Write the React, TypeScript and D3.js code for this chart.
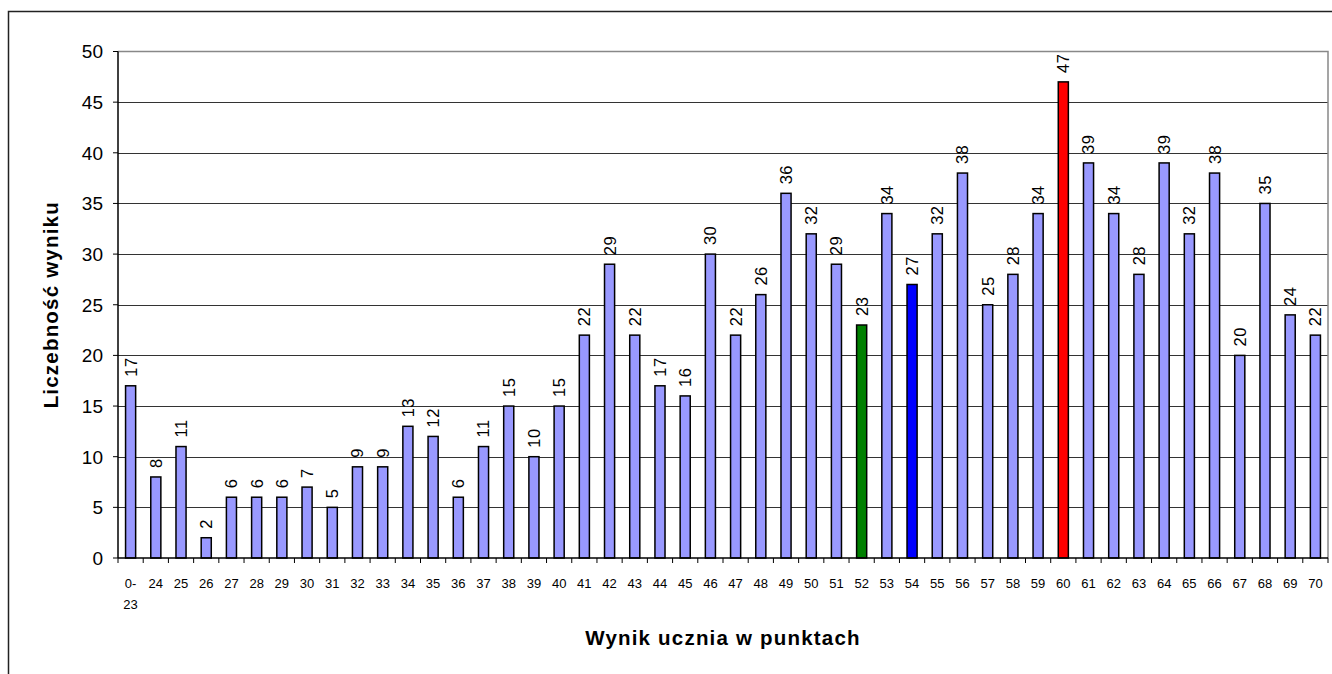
import React from "react";
import * as d3 from "d3";

const categories = ["0-23","24","25","26","27","28","29","30","31","32","33","34","35","36","37","38","39","40","41","42","43","44","45","46","47","48","49","50","51","52","53","54","55","56","57","58","59","60","61","62","63","64","65","66","67","68","69","70"];
const counts = [17,8,11,2,6,6,6,7,5,9,9,13,12,6,11,15,10,15,22,29,22,17,16,30,22,26,36,32,29,23,34,27,32,38,25,28,34,47,39,34,28,39,32,38,20,35,24,22];
const highlight: Record<string, string> = { "52": "#008000", "54": "#0000FF", "60": "#FF0000" };
const yTicks = [0,5,10,15,20,25,30,35,40,45,50];

const W = 1332, H = 674;
const left = 118, right = 1328, top = 51.5, bottom = 558;
const FONT = "'Liberation Sans', Arial, sans-serif";

export default function App() {
  const x = d3.scaleBand<string>().domain(categories).range([left, right]).paddingInner(0).paddingOuter(0);
  const y = d3.scaleLinear().domain([0, 50]).range([bottom, top]);
  const bw = x.bandwidth() * 0.4;
  return (
    <svg width={W} height={H} style={{ position: "absolute", left: 0, top: 0 }} fontFamily={FONT}>
      <rect x={0} y={0} width={W} height={H} fill="#fff" />
      <path d={`M8.5,${H} V11.5 H${W}`} fill="none" stroke="#222" strokeWidth={1.5} />
      {yTicks.filter(t => t > 0 && t < 50).map(t => (
        <line key={t} x1={left} x2={right} y1={Math.round(y(t)) + 0.5} y2={Math.round(y(t)) + 0.5} stroke="#333" strokeWidth={1} />
      ))}
      <path d={`M${left},${top} H${right} V${bottom}`} fill="none" stroke="#888" strokeWidth={1.5} />
      {categories.map((c, i) => {
        const cx = x(c)! + x.bandwidth() / 2;
        const yt = y(counts[i]);
        return (
          <g key={c}>
            <rect x={cx - bw / 2} y={yt} width={bw} height={bottom - yt} fill={highlight[c] || "#9999FF"} stroke="#000" strokeWidth={1.5} />
            <text transform={`translate(${cx},${yt - 9}) rotate(-90)`} dy="0.36em" fontSize={16.5} letterSpacing={0.5} fill="#000">{counts[i]}</text>
          </g>
        );
      })}
      <line x1={left} x2={left} y1={top} y2={bottom} stroke="#000" strokeWidth={1.5} />
      {yTicks.map(t => (
        <g key={t}>
          <line x1={left - 5} x2={left} y1={y(t)} y2={y(t)} stroke="#000" strokeWidth={1} />
          <text x={left - 15} y={y(t)} dy="0.36em" textAnchor="end" fontSize={19} fill="#000">{t}</text>
        </g>
      ))}
      <line x1={left} x2={right} y1={bottom} y2={bottom} stroke="#000" strokeWidth={1.5} />
      {categories.map(c => (
        <line key={"t" + c} x1={x(c)!} x2={x(c)!} y1={bottom} y2={bottom + 5} stroke="#000" strokeWidth={1} />
      ))}
      <line x1={right} x2={right} y1={bottom} y2={bottom + 5} stroke="#000" strokeWidth={1} />
      {categories.map(c => {
        const cx = x(c)! + x.bandwidth() / 2;
        const parts = c.includes("-") ? [c.split("-")[0] + "-", c.split("-")[1]] : [c];
        return (
          <text key={"l" + c} x={cx} y={587.5} textAnchor="middle" fontSize={13} fill="#000">
            {parts.map((p, k) => (
              <tspan key={k} x={cx} dy={k === 0 ? 0 : 21.5}>{p}</tspan>
            ))}
          </text>
        );
      })}
      <text x={(left + right) / 2} y={645} textAnchor="middle" fontSize={20.5} letterSpacing={1.2} fontWeight="bold" fill="#000">Wynik ucznia w punktach</text>
      <text transform={`translate(58,${(top + bottom) / 2}) rotate(-90)`} textAnchor="middle" fontSize={20.5} letterSpacing={1.2} fontWeight="bold" fill="#000">Liczebność wyniku</text>
    </svg>
  );
}
